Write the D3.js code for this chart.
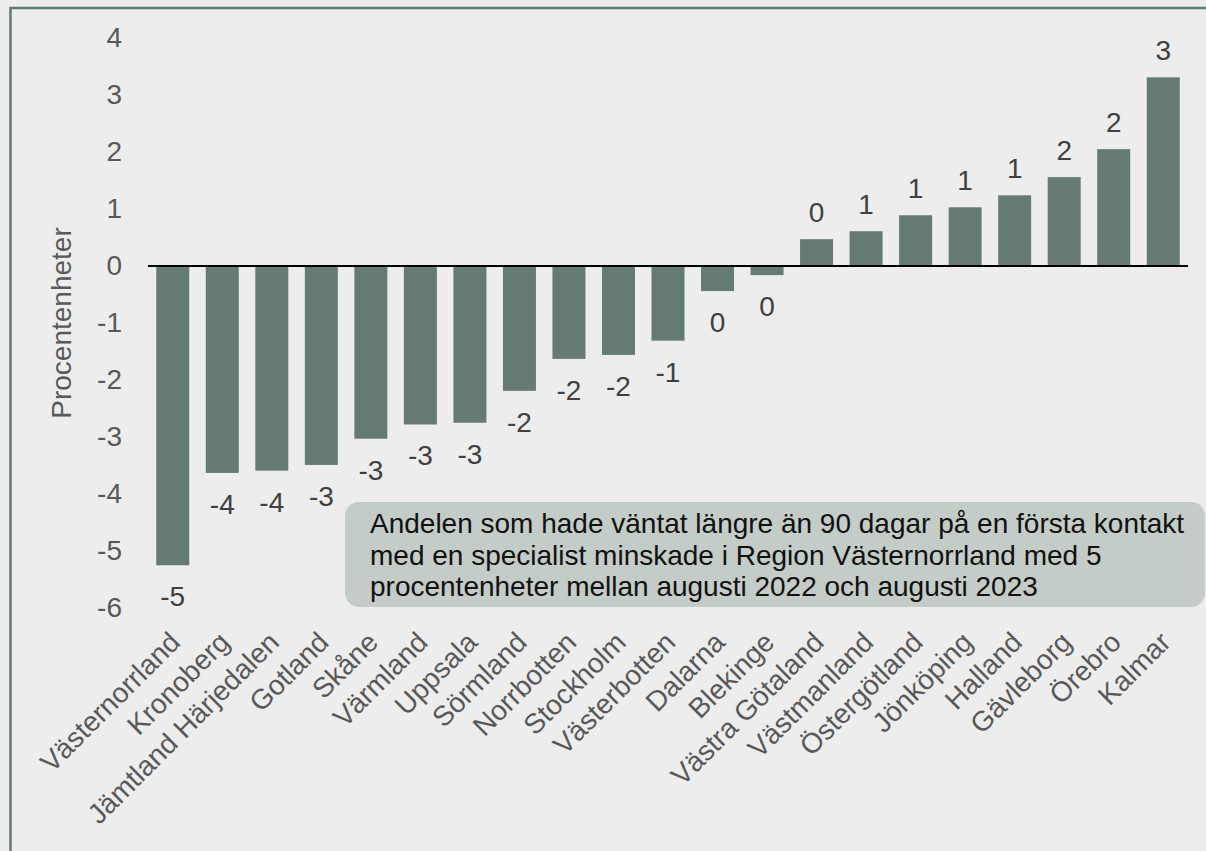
<!DOCTYPE html>
<html>
<head>
<meta charset="utf-8">
<script src="https://cdn.jsdelivr.net/npm/d3@7"></script>
<style>
  html, body { margin: 0; padding: 0; background: #ededed; }
  text { font-family: "Liberation Sans", Arial, sans-serif; }
</style>
</head>
<body>
<div id="my_dataviz"></div>
<script>
// regions, sorted by change (percentage points, Aug 2022 -> Aug 2023)
var regions = ["Västernorrland", "Kronoberg", "Jämtland Härjedalen", "Gotland", "Skåne",
  "Värmland", "Uppsala", "Sörmland", "Norrbotten", "Stockholm", "Västerbotten",
  "Dalarna", "Blekinge", "Västra Götaland", "Västmanland", "Östergötland",
  "Jönköping", "Halland", "Gävleborg", "Örebro", "Kalmar"]
var change = [-5.25, -3.63, -3.59, -3.49, -3.03, -2.78, -2.75, -2.19, -1.63, -1.56, -1.31,
  -0.44, -0.16, 0.47, 0.61, 0.89, 1.03, 1.24, 1.56, 2.05, 3.31]
var yTicks = [-6, -5, -4, -3, -2, -1, 0, 1, 2, 3, 4]
var yTitle = "Procentenheter"
var noteLines = [
  "Andelen som hade väntat längre än 90 dagar på en första kontakt",
  "med en specialist minskade i Region Västernorrland med 5",
  "procentenheter mellan augusti 2022 och augusti 2023"
]

var W = 1206, H = 851
var barColor = "#657a70"

var svg = d3.select("#my_dataviz")
  .append("svg")
    .attr("width", W)
    .attr("height", H)
    .style("display", "block")

// frame
svg.append("rect")
  .attr("x", 10.5).attr("y", 8)
  .attr("width", W + 20).attr("height", H + 20)
  .attr("fill", "#ededed")
  .attr("stroke", barColor)
  .attr("stroke-width", 2.5)

var data = regions.map(function(r, i) { return {name: r, value: change[i]} })

var x = d3.scaleBand()
  .domain(regions)
  .range([148, 1188])
  .paddingInner(0.334)
  .paddingOuter(0.167)

var y = d3.scaleLinear()
  .domain([-6, 4])
  .range([608, 38])

// y axis (labels only)
var yAxis = svg.append("g")
  .attr("transform", "translate(148,0)")
  .call(d3.axisLeft(y).tickValues(yTicks).tickSize(0).tickPadding(26)
    .tickFormat(function(d) { return String(d) }))
yAxis.select(".domain").remove()
yAxis.selectAll("text")
  .attr("font-family", "Liberation Sans, Arial, sans-serif")
  .attr("font-size", 28)
  .attr("fill", "#595959")

svg.append("text")
  .attr("transform", "translate(71," + ((y(4) + y(-6)) / 2) + ") rotate(-90)")
  .attr("text-anchor", "middle")
  .attr("font-size", 28)
  .attr("fill", "#595959")
  .text(yTitle)

// bars
svg.selectAll("rect.bar")
  .data(data)
  .enter()
  .append("rect")
    .attr("class", "bar")
    .attr("x", function(d) { return x(d.name) })
    .attr("width", x.bandwidth())
    .attr("y", function(d) { return y(Math.max(0, d.value)) })
    .attr("height", function(d) { return Math.abs(y(d.value) - y(0)) })
    .attr("fill", barColor)

// zero line
svg.append("line")
  .attr("x1", 148).attr("x2", 1188)
  .attr("y1", y(0)).attr("y2", y(0))
  .attr("stroke", "#000")
  .attr("stroke-width", 2)

// value labels
svg.selectAll("text.val")
  .data(data)
  .enter()
  .append("text")
    .attr("class", "val")
    .attr("x", function(d) { return x(d.name) + x.bandwidth() / 2 })
    .attr("y", function(d) { return d.value >= 0 ? y(d.value) - 17 : y(d.value) + 41 })
    .attr("text-anchor", "middle")
    .attr("font-size", 28)
    .attr("fill", "#404040")
    .text(function(d) { return String(Math.round(d.value)) })

// x axis labels
var xAxis = svg.append("g")
  .attr("transform", "translate(0," + y(-6) + ")")
  .call(d3.axisBottom(x).tickSize(0))
xAxis.select(".domain").remove()
xAxis.selectAll("text")
  .attr("x", 0).attr("y", 0).attr("dy", 0)
  .attr("transform", "translate(9,36) rotate(-45)")
  .style("text-anchor", "end")
  .attr("font-family", "Liberation Sans, Arial, sans-serif")
  .attr("font-size", 28)
  .attr("fill", "#595959")

// annotation
svg.append("rect")
  .attr("x", 345).attr("y", 502)
  .attr("width", 860).attr("height", 105)
  .attr("rx", 14)
  .attr("fill", "#c3ccc6")

svg.selectAll("text.note")
  .data(noteLines)
  .enter()
  .append("text")
    .attr("class", "note")
    .attr("x", 370)
    .attr("y", function(d, i) { return 533 + i * 31.5 })
    .attr("font-size", 28)
    .attr("fill", "#111")
    .text(function(d) { return d })
</script>
</body>
</html>
